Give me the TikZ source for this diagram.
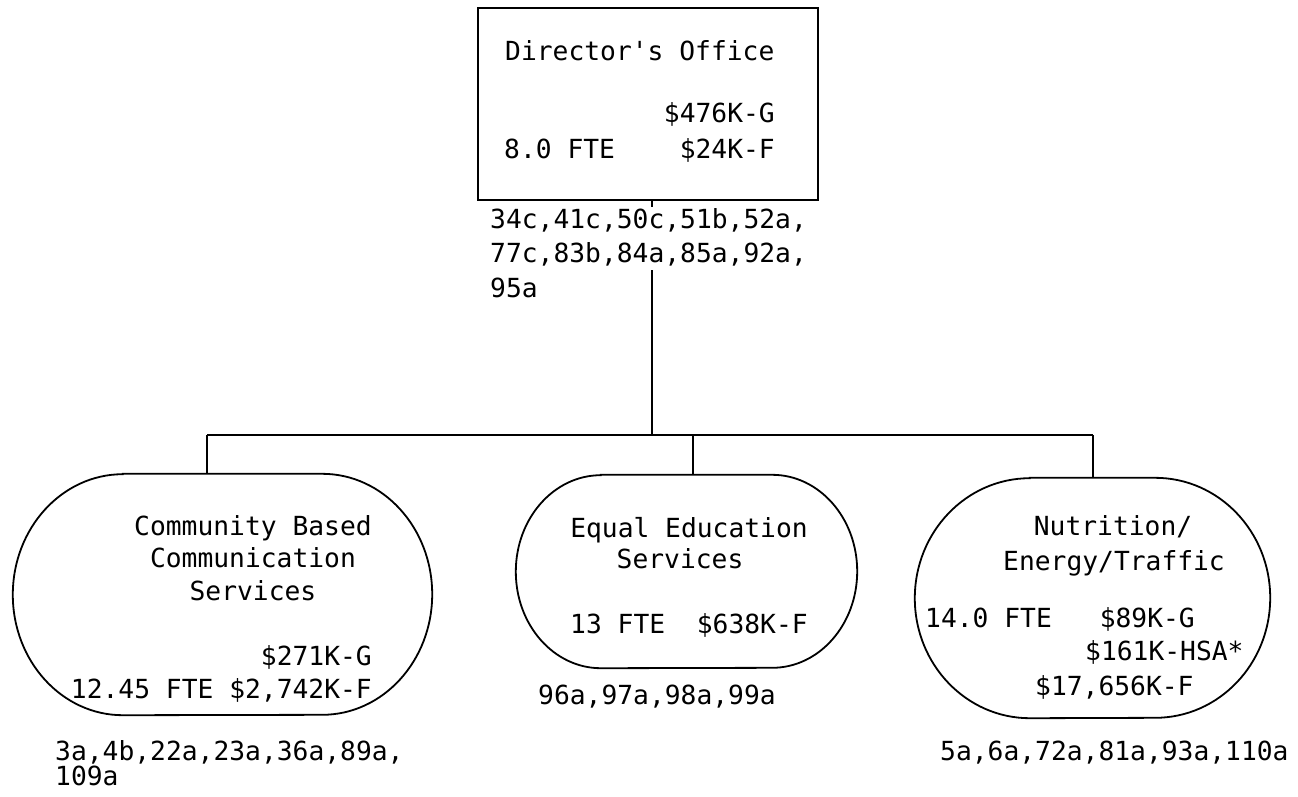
\documentclass[tikz,border=0pt]{standalone}
\usepackage{fontspec}
\newfontfamily\tw{DejaVu Sans Mono}
\begin{document}
\begin{tikzpicture}[x=1pt,y=-1pt,
  txt/.style={font=\tw\fontsize{26.3}{32}\selectfont, inner sep=0pt},
  ln/.style={line width=1.8pt},
  box/.style={draw, line width=2pt, minimum width=340pt, minimum height=192pt, inner sep=0pt},
  blob/.style={draw=none, inner sep=0pt}]
\useasboundingbox (0,0) rectangle (1298,796);
\newcommand\stadium[3]{%
  \draw[ln] ([xshift=#2pt]#1.north west) -- ([xshift=-#2pt]#1.north east)
    arc[start angle=-90, end angle=90, x radius=#2, y radius=#3]
    -- ([xshift=#2pt]#1.south west)
    arc[start angle=90, end angle=270, x radius=#2, y radius=#3] -- cycle;}

% Director's office
\node[box] (dir) at (648,104) {};
\node[txt, anchor=base west] (dt) at (505,60) {Director's Office};
\node[txt, anchor=base east] (dg) at (775,122) {\$476K-G};
\node[txt, anchor=base west] (df) at (504,158) {8.0 FTE};
\node[txt, anchor=base east] (dff) at (775,158) {\$24K-F};
\node[txt, anchor=base west] (dr1) at (490,228) {34c,41c,50c,51b,52a,};
\node[txt, anchor=base west] (dr2) at (490,262) {77c,83b,84a,85a,92a,};
\node[txt, anchor=base west] (dr3) at (490,297) {95a};

% branch nodes
\node[blob, minimum width=419pt, minimum height=241pt] (cbs) at (222.5,594.5) {};
\node[blob, minimum width=341pt, minimum height=193pt] (ees) at (686.5,571.5) {};
\node[blob, minimum width=355pt, minimum height=240pt] (net) at (1092.5,598) {};
\stadium{cbs}{110}{120.5}
\stadium{ees}{85}{96.5}
\stadium{net}{115}{120}

% connectors
\coordinate (j) at (652,435);
\coordinate (jt) at (652,270);
\coordinate (bl) at (207,435);
\coordinate (bm) at (693,435);
\coordinate (br) at (1093,435);
\draw[ln] (dir.south -| j) -- ++(0,6);
\draw[ln] (jt) -- (j);
\draw[ln] (bl) -- (br);
\draw[ln] (bl) -- (cbs.north -| bl);
\draw[ln] (bm) -- (ees.north -| bm);
\draw[ln] (br) -- (net.north -| br);

% Community Based Communication Services
\node[txt, anchor=base] (c1) at (253,535) {Community Based};
\node[txt, anchor=base] (c2) at (253,567) {Communication};
\node[txt, anchor=base] (c3) at (253,600) {Services};
\node[txt, anchor=base east] (c4) at (372,665) {\$271K-G};
\node[txt, anchor=base east] (c5) at (372,698) {12.45 FTE \$2,742K-F};
\node[txt, anchor=base west] (c6) at (55,760) {3a,4b,22a,23a,36a,89a,};
\node[txt, anchor=base west] (c7) at (55,785) {109a};

% Equal Education Services
\node[txt, anchor=base] (e1) at (689,537) {Equal Education};
\node[txt, anchor=base] (e2) at (680,568) {Services};
\node[txt, anchor=base west] (e3) at (570,633) {13 FTE\ \ \$638K-F};
\node[txt, anchor=base west] (e4) at (538,704) {96a,97a,98a,99a};

% Nutrition/Energy/Traffic
\node[txt, anchor=base] (n1) at (1113,535) {Nutrition/};
\node[txt, anchor=base] (n2) at (1114,570) {Energy/Traffic};
\node[txt, anchor=base west] (n3) at (925,627) {14.0 FTE};
\node[txt, anchor=base east] (n4) at (1195,627) {\$89K-G};
\node[txt, anchor=base west] (n5) at (1085,660) {\$161K-HSA*};
\node[txt, anchor=base west] (n6) at (1035,695) {\$17,656K-F};
\node[txt, anchor=base west] (n7) at (940,760) {5a,6a,72a,81a,93a,110a};
\end{tikzpicture}
\end{document}
